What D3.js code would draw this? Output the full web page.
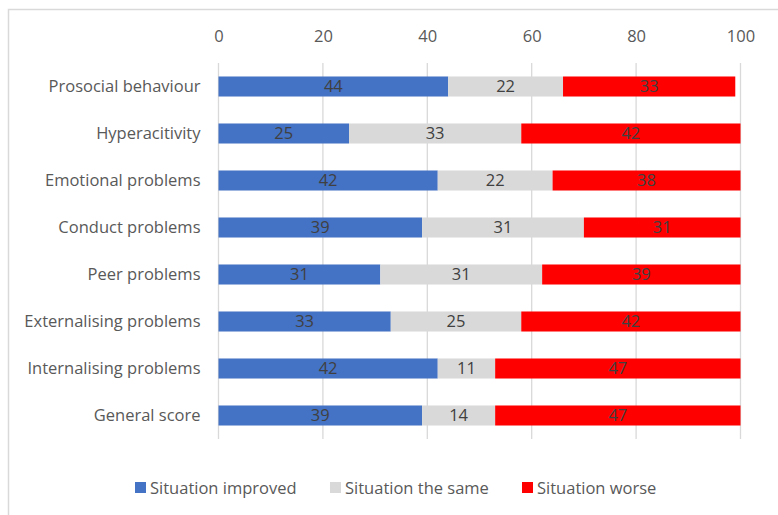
<!DOCTYPE html>
<html>
<head>
<meta charset="utf-8">
<script src="https://cdn.jsdelivr.net/npm/d3@7"></script>
<style>
  html, body { margin: 0; padding: 0; background: #fff; }
  svg { display: block; }
  text { font-family: "Open Sans", "Noto Sans", sans-serif; }
</style>
</head>
<body>
<svg id="chart" width="778" height="515"></svg>
<script>
// Share of children whose situation changed, by SDQ scale (%)
const categories = [
  "Prosocial behaviour",
  "Hyperacitivity",
  "Emotional problems",
  "Conduct problems",
  "Peer problems",
  "Externalising problems",
  "Internalising problems",
  "General score"
];
const improved = [44, 25, 42, 39, 31, 33, 42, 39];
const same     = [22, 33, 22, 31, 31, 25, 11, 14];
const worse    = [33, 42, 38, 31, 39, 42, 47, 47];
const tickValues = [0, 20, 40, 60, 80, 100];

const seriesNames = ["Situation improved", "Situation the same", "Situation worse"];
const seriesColors = ["#4472C4", "#D9D9D9", "#FF0000"];

const rows = categories.map((c, i) => ({
  category: c,
  "Situation improved": improved[i],
  "Situation the same": same[i],
  "Situation worse": worse[i]
}));

const svg = d3.select("#chart");
const W = 778, H = 515;
const FS = 16.5;

// outer chart frame
svg.append("rect")
  .attr("x", 8.5).attr("y", 9.5)
  .attr("width", W + 10).attr("height", H + 10)
  .attr("fill", "none").attr("stroke", "#D9D9D9").attr("stroke-width", 1.5);

const plot = { left: 218.5, right: 740.5, top: 63, bottom: 439 };

const x = d3.scaleLinear().domain([0, 100]).range([plot.left, plot.right]);
const y = d3.scaleBand().domain(categories).range([plot.top, plot.bottom]).paddingInner(0.574).paddingOuter(0.287);

// vertical gridlines
svg.append("g")
  .selectAll("line")
  .data(tickValues)
  .join("line")
  .attr("x1", d => x(d)).attr("x2", d => x(d))
  .attr("y1", plot.top).attr("y2", plot.bottom)
  .attr("stroke", "#D9D9D9").attr("stroke-width", 1.3);

// top value axis
const xAxis = d3.axisTop(x).tickValues(tickValues).tickSize(0).tickPadding(0);
const gx = svg.append("g").attr("transform", `translate(0, 42)`).call(xAxis);
gx.select(".domain").remove();
gx.selectAll("text")
  .attr("font-family", "'Open Sans', sans-serif")
  .attr("font-size", FS).attr("fill", "#595959");

// category axis
const yAxis = d3.axisLeft(y).tickSize(0).tickPadding(18);
const gy = svg.append("g").attr("transform", `translate(${plot.left}, 0)`).call(yAxis);
gy.select(".domain").remove();
gy.selectAll("text")
  .attr("font-family", "'Open Sans', sans-serif")
  .attr("font-size", FS).attr("fill", "#595959");

// stacked bars, clipped at the axis maximum
const stack = d3.stack().keys(seriesNames)(rows);
const clamp = v => Math.min(v, 100);

const layers = svg.append("g")
  .selectAll("g")
  .data(stack)
  .join("g")
  .attr("fill", (d, i) => seriesColors[i]);

layers.selectAll("rect")
  .data(d => d)
  .join("rect")
  .attr("x", d => x(clamp(d[0])))
  .attr("y", d => y(d.data.category))
  .attr("width", d => x(clamp(d[1])) - x(clamp(d[0])))
  .attr("height", y.bandwidth());

// value labels centred in each visible segment
layers.selectAll("text")
  .data(d => d.map(s => ({ s, key: d.key })))
  .join("text")
  .attr("x", d => (x(clamp(d.s[0])) + x(clamp(d.s[1]))) / 2)
  .attr("y", d => y(d.s.data.category) + y.bandwidth() / 2)
  .attr("dy", "0.36em")
  .attr("text-anchor", "middle")
  .attr("font-size", FS)
  .attr("fill", "#404040")
  .text(d => d.s.data[d.key]);

// legend
const legendX = [135, 330, 522];
const legend = svg.append("g")
  .selectAll("g")
  .data(seriesNames)
  .join("g")
  .attr("transform", (d, i) => `translate(${legendX[i]}, 488)`);
legend.append("rect")
  .attr("x", 0).attr("y", -6).attr("width", 11).attr("height", 11)
  .attr("fill", (d, i) => seriesColors[i]);
legend.append("text")
  .attr("x", 15).attr("y", 0).attr("dy", "0.36em")
  .attr("font-size", FS).attr("fill", "#595959")
  .text(d => d);
</script>
</body>
</html>
